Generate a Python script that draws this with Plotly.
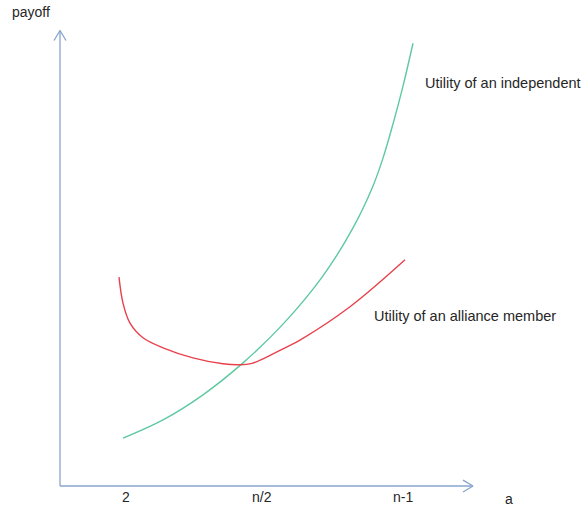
import plotly.graph_objects as go

# Data (abstract units; origin at the axes' corner)
indep_x = [1.26, 2.06, 2.86, 3.66, 4.46, 5.26, 5.86, 6.26, 6.46, 6.66, 6.86, 7.06]
indep_y = [1.05, 1.45, 2.00, 2.70, 3.55, 4.61, 5.66, 6.58, 7.19, 7.94, 8.77, 9.71]

alliance_x = [1.18, 1.26, 1.40, 1.66, 2.06, 2.66, 3.26, 3.60, 3.84, 4.10, 4.50, 4.80, 5.80, 6.90]
alliance_y = [4.58, 4.01, 3.57, 3.25, 3.03, 2.81, 2.68, 2.66, 2.69, 2.81, 3.03, 3.20, 3.93, 4.96]

tick_labels = ["2", "n/2", "n-1"]
tick_positions = [1.32, 4.04, 6.86]

AXIS_COLOR = "#88a4cc"
GREEN = "#5ec9a0"
RED = "#e8414c"
TEXT = "#262626"
FONT = "Liberation Sans"

fig = go.Figure()

fig.add_trace(go.Scatter(x=indep_x, y=indep_y, mode="lines",
                         line=dict(color=GREEN, width=1.4, shape="spline"),
                         hoverinfo="skip", showlegend=False))
fig.add_trace(go.Scatter(x=alliance_x, y=alliance_y, mode="lines",
                         line=dict(color=RED, width=1.4, shape="spline"),
                         hoverinfo="skip", showlegend=False))

# axes with open arrowheads
x_tip, y_tip = 8.26, 9.99
shapes = [
    dict(type="line", x0=0, y0=0, x1=x_tip, y1=0),
    dict(type="line", x0=x_tip - 0.2, y0=0.13, x1=x_tip, y1=0),
    dict(type="line", x0=x_tip - 0.2, y0=-0.13, x1=x_tip, y1=0),
    dict(type="line", x0=0, y0=0, x1=0, y1=y_tip),
    dict(type="line", x0=-0.12, y0=y_tip - 0.22, x1=0, y1=y_tip),
    dict(type="line", x0=0.12, y0=y_tip - 0.22, x1=0, y1=y_tip),
]
for s in shapes:
    s.update(xref="x", yref="y", line=dict(color=AXIS_COLOR, width=1.3))

annotations = []
for lbl, pos in zip(tick_labels, tick_positions):
    annotations.append(dict(x=pos, y=-0.24, text=lbl, showarrow=False,
                            xanchor="center", yanchor="middle",
                            font=dict(family=FONT, size=14, color=TEXT)))
annotations += [
    dict(x=8.98, y=-0.29, text="a", showarrow=False, xanchor="center", yanchor="middle",
         font=dict(family=FONT, size=14, color=TEXT)),
    dict(x=-0.58, y=10.39, text="payoff", showarrow=False, xanchor="center", yanchor="middle",
         font=dict(family=FONT, size=14, color=TEXT)),
    dict(x=7.26, y=8.84, text="Utility of an independent", showarrow=False,
         xanchor="left", yanchor="middle", font=dict(family=FONT, size=14.5, color=TEXT)),
    dict(x=6.24, y=3.73, text="Utility of an alliance member", showarrow=False,
         xanchor="left", yanchor="middle", font=dict(family=FONT, size=14.5, color=TEXT)),
]

fig.update_layout(
    width=582, height=510,
    margin=dict(l=0, r=0, t=0, b=0),
    paper_bgcolor="white", plot_bgcolor="white",
    xaxis=dict(range=[-1.2, 10.44], visible=False, fixedrange=True),
    yaxis=dict(range=[-0.526, 10.658], visible=False, fixedrange=True),
    shapes=shapes, annotations=annotations,
    showlegend=False,
)

fig.write_html("out.html", config={"displayModeBar": False},
               post_script="document.body.style.margin='0';document.body.style.overflow='hidden';")
